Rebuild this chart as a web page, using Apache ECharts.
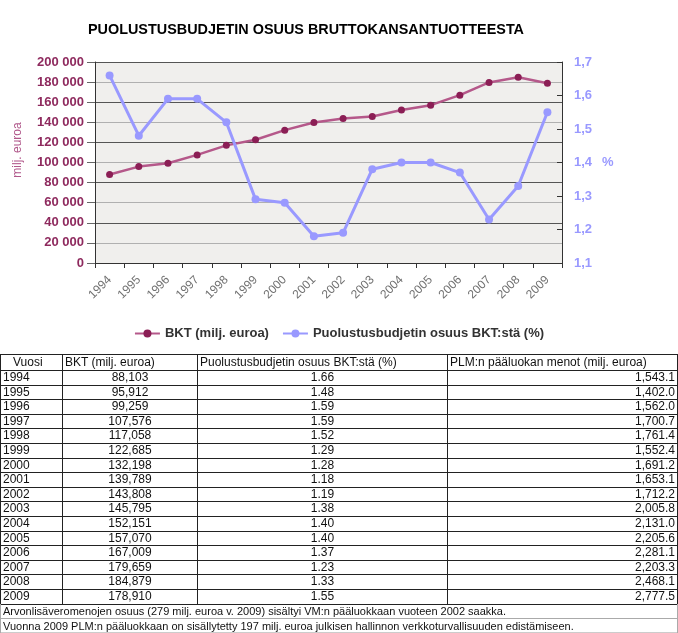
<!DOCTYPE html>
<html>
<head>
<meta charset="utf-8">
<script src="https://cdn.jsdelivr.net/npm/echarts@6/dist/echarts.min.js"></script>
<style>
  html, body { margin: 0; padding: 0; background: #fff; }
  body { width: 678px; height: 633px; position: relative; overflow: hidden; font-family: "Liberation Sans", Arial, sans-serif; }
  #chart { position: absolute; left: 0; top: 0; width: 678px; height: 352px; }
  #table { position: absolute; left: 0; top: 0; width: 678px; height: 633px; pointer-events: none; }
  .cell { position: absolute; white-space: nowrap; color: #111; font-size: 12px; box-sizing: border-box; }
  .hl { position: absolute; height: 1px; }
  .vl { position: absolute; width: 1px; }
</style>
</head>
<body>
<div id="chart"></div>
<div id="table"></div>
<script>
// ---- data ----
const years = ['1994','1995','1996','1997','1998','1999','2000','2001','2002','2003','2004','2005','2006','2007','2008','2009'];
const bkt = [88103, 95912, 99259, 107576, 117058, 122685, 132198, 139789, 143808, 145795, 152151, 157070, 167009, 179659, 184879, 178910];
const pct = [1.66, 1.48, 1.59, 1.59, 1.52, 1.29, 1.28, 1.18, 1.19, 1.38, 1.40, 1.40, 1.37, 1.23, 1.33, 1.55];
const plm = [1543.1, 1402.0, 1562.0, 1700.7, 1761.4, 1552.4, 1691.2, 1653.1, 1712.2, 2005.8, 2131.0, 2205.6, 2281.1, 2203.3, 2468.1, 2777.5];
const titleText = 'PUOLUSTUSBUDJETIN OSUUS BRUTTOKANSANTUOTTEESTA';
const seriesNames = ['BKT (milj. euroa)', 'Puolustusbudjetin osuus BKT:stä (%)'];
const leftAxisName = 'milj. euroa';
const rightAxisName = '%';
const tableHeaders = ['Vuosi', 'BKT (milj. euroa)', 'Puolustusbudjetin osuus BKT:stä (%)', 'PLM:n pääluokan menot (milj. euroa)'];
const footnotes = [
  'Arvonlisäveromenojen osuus (279 milj. euroa v. 2009) sisältyi VM:n pääluokkaan vuoteen 2002 saakka.',
  'Vuonna 2009 PLM:n pääluokkaan on sisällytetty 197 milj. euroa julkisen hallinnon verkkoturvallisuuden edistämiseen.'
];

// ---- chart ----
const chart = echarts.init(document.getElementById('chart'), null, { renderer: 'canvas' });
const maroon = '#8e2a5e';
const lilac = '#9999ff';
const spaceSep = v => String(v).replace(/\B(?=(\d{3})+(?!\d))/g, ' ');

chart.setOption({
  animation: false,
  backgroundColor: '#fff',
  title: {
    text: titleText,
    left: 88, top: 23, padding: 0,
    textStyle: { fontFamily: 'Liberation Sans', fontSize: 14.4, fontWeight: 'bold', color: '#000' }
  },
  legend: {
    top: 322, left: 'center',
    itemWidth: 25, itemHeight: 10, itemGap: 13,
    textStyle: { fontFamily: 'Liberation Sans', fontSize: 13, fontWeight: 'bold', color: '#333' },
    data: seriesNames
  },
  grid: {
    left: 95, right: 116, top: 62, bottom: 89,
    show: true, backgroundColor: '#f0efed', borderWidth: 0
  },
  xAxis: {
    type: 'category', data: years, boundaryGap: true,
    axisLine: { show: true, lineStyle: { color: '#333', width: 1 } },
    axisTick: { show: true, length: 5, lineStyle: { color: '#333' } },
    axisLabel: { rotate: 45, margin: 15, fontFamily: 'Liberation Sans', fontSize: 12, color: '#707070', interval: 0 }
  },
  yAxis: [
    {
      type: 'value', min: 0, max: 200000, interval: 20000, position: 'left',
      axisLine: { show: true, lineStyle: { color: '#333' } },
      axisTick: { show: true, length: 8, lineStyle: { color: '#666' } },
      splitLine: { show: true, lineStyle: { color: ['#555', '#b0b0b0'], width: 1 } },
      axisLabel: { margin: 11, fontFamily: 'Liberation Sans', fontSize: 13, fontWeight: 'bold', color: maroon, formatter: spaceSep }
    },
    {
      type: 'value', min: 1.1, max: 1.7, interval: 0.1, position: 'right',
      name: rightAxisName, nameLocation: 'middle', nameGap: 40, nameRotate: 0,
      nameTextStyle: { fontFamily: 'Liberation Sans', fontSize: 13, fontWeight: 'bold', color: lilac },
      axisLine: { show: true, lineStyle: { color: '#333' } },
      axisTick: { show: true, length: 5, inside: true, lineStyle: { color: '#333' } },
      splitLine: { show: false },
      axisLabel: { margin: 12, fontFamily: 'Liberation Sans', fontSize: 13, fontWeight: 'bold', color: lilac,
        formatter: v => v.toFixed(1).replace('.', ',') }
    }
  ],
  graphic: [{
    type: 'text', x: 18, y: 150, rotation: Math.PI / 2,
    style: { text: leftAxisName, fill: '#b0578a', font: '12px "Liberation Sans"', align: 'center', verticalAlign: 'middle' }
  }],
  series: [
    {
      name: seriesNames[0], type: 'line', yAxisIndex: 0, data: bkt,
      symbol: 'circle', symbolSize: 7,
      lineStyle: { color: '#b5588a', width: 2.5 },
      itemStyle: { color: '#8b1e55' }
    },
    {
      name: seriesNames[1], type: 'line', yAxisIndex: 1, data: pct,
      symbol: 'circle', symbolSize: 8,
      lineStyle: { color: lilac, width: 3 },
      itemStyle: { color: lilac }
    }
  ]
});

// ---- table ----
const tbl = document.getElementById('table');
const colX = [0, 62, 197, 447, 677];
const headTop = 354, headH = 16, rowH = 14.6;
const dataTop = headTop + headH;
const dataBottom = dataTop + years.length * rowH;
const foot1Bottom = dataBottom + 14.4;
const foot2Bottom = 633;

function hline(x, y, w, color) {
  const d = document.createElement('div'); d.className = 'hl';
  d.style.left = x + 'px'; d.style.top = Math.round(y) + 'px'; d.style.width = w + 'px'; d.style.background = color;
  tbl.appendChild(d);
}
function vline(x, y, h, color) {
  const d = document.createElement('div'); d.className = 'vl';
  d.style.left = x + 'px'; d.style.top = Math.round(y) + 'px'; d.style.height = Math.round(h) + 'px'; d.style.background = color;
  tbl.appendChild(d);
}
function cell(text, x0, x1, y0, h, align, pad, size) {
  const d = document.createElement('div'); d.className = 'cell';
  d.textContent = text;
  d.style.left = (x0 + 1) + 'px'; d.style.width = (x1 - x0 - 1) + 'px';
  d.style.top = y0 + 'px'; d.style.height = h + 'px'; d.style.lineHeight = h + 'px';
  d.style.textAlign = align;
  if (size) d.style.fontSize = size + 'px';
  if (align === 'left') d.style.paddingLeft = pad + 'px';
  if (align === 'right') d.style.paddingRight = pad + 'px';
  tbl.appendChild(d);
}
const fmtInt = v => v.toLocaleString('en-US');
const fmtDec = v => v.toLocaleString('en-US', { minimumFractionDigits: 1, maximumFractionDigits: 1 });

// header
cell(tableHeaders[0], colX[0], colX[1], headTop, headH, 'left', 12);
cell(tableHeaders[1], colX[1], colX[2], headTop, headH, 'left', 2);
cell(tableHeaders[2], colX[2], colX[3], headTop, headH, 'left', 2);
cell(tableHeaders[3], colX[3], colX[4], headTop, headH, 'left', 2);
// rows
years.forEach((y, i) => {
  const top = dataTop + i * rowH;
  cell(y, colX[0], colX[1], top, rowH, 'left', 2);
  cell(fmtInt(bkt[i]), colX[1], colX[2], top, rowH, 'center', 0);
  cell(pct[i].toFixed(2), colX[2], colX[3], top, rowH, 'center', 0);
  cell(fmtDec(plm[i]), colX[3], colX[4], top, rowH, 'right', 2);
});
// lines
const dark = '#222';
hline(0, headTop, 678, dark);
hline(0, dataTop, 678, dark);
for (let i = 1; i <= years.length; i++) hline(0, dataTop + i * rowH, 678, dark);
colX.forEach(x => vline(x, headTop, dataBottom - headTop, dark));
// footnotes
cell(footnotes[0], 0, 677, dataBottom + 1, foot1Bottom - dataBottom - 1, 'left', 2, 11);
cell(footnotes[1], 0, 677, foot1Bottom + 1, foot2Bottom - foot1Bottom - 1, 'left', 2, 11);
hline(0, foot1Bottom, 678, '#aaa');
hline(0, foot2Bottom - 1, 678, '#ccc');
vline(0, dataBottom, foot2Bottom - dataBottom, '#aaa');
vline(677, dataBottom, foot2Bottom - dataBottom, '#aaa');
</script>
</body>
</html>
